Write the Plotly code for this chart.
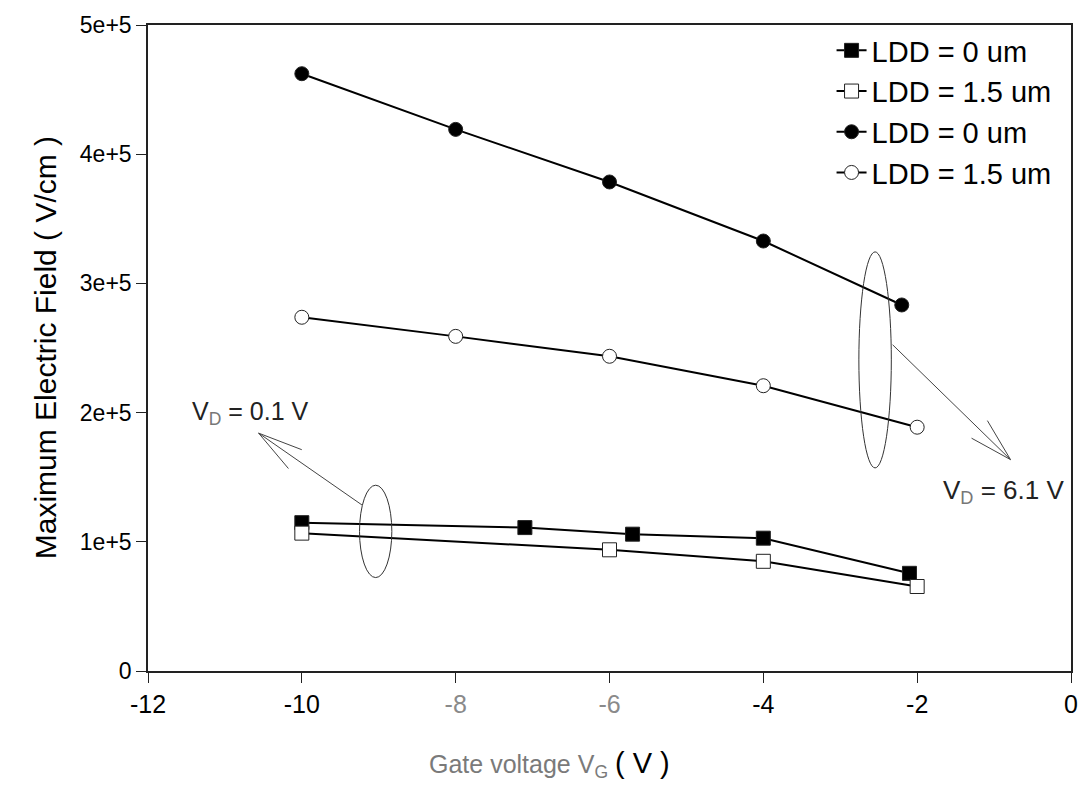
import plotly.graph_objects as go

# ---- data ----
x_sq_filled = [-10, -7.1, -5.7, -4, -2.1]
y_sq_filled = [1.148e5, 1.11e5, 1.059e5, 1.028e5, 0.756e5]

x_sq_open = [-10, -6, -4, -2]
y_sq_open = [1.067e5, 0.938e5, 0.849e5, 0.654e5]

x_ci_filled = [-10, -8, -6, -4, -2.2]
y_ci_filled = [4.623e5, 4.192e5, 3.785e5, 3.328e5, 2.833e5]

x_ci_open = [-10, -8, -6, -4, -2]
y_ci_open = [2.738e5, 2.59e5, 2.436e5, 2.208e5, 1.887e5]

legend_names = ["LDD = 0 um", "LDD = 1.5 um", "LDD = 0 um", "LDD = 1.5 um"]

x_tickvals = [-12, -10, -8, -6, -4, -2, 0]
x_ticktext = ["-12", "-10", "<span style='color:#8a8a8a'>-8</span>",
              "<span style='color:#8a8a8a'>-6</span>", "-4", "-2", "0"]
y_tickvals = [0, 1e5, 2e5, 3e5, 4e5, 5e5]
y_ticktext = ["0", "1e+5", "2e+5", "3e+5", "4e+5", "5e+5"]

FONT = "Liberation Sans, Arial, sans-serif"

fig = go.Figure()

def add_series(xs, ys, name, symbol, fill):
    fig.add_trace(go.Scatter(
        x=xs, y=ys, name=name, mode="lines+markers",
        line=dict(color="black", width=2),
        marker=dict(symbol=symbol, size=14, color=fill,
                    line=dict(color="#222", width=1)),
    ))

add_series(x_sq_filled, y_sq_filled, legend_names[0], "square", "black")
add_series(x_sq_open, y_sq_open, legend_names[1], "square", "white")
add_series(x_ci_filled, y_ci_filled, legend_names[2], "circle", "black")
add_series(x_ci_open, y_ci_open, legend_names[3], "circle", "white")

shapes = []
# ellipses
shapes.append(dict(type="circle", xref="x", yref="y", x0=-9.25, x1=-8.83,
                   y0=0.723e5, y1=1.438e5, line=dict(color="#333", width=1)))
shapes.append(dict(type="circle", xref="x", yref="y", x0=-2.758, x1=-2.336,
                   y0=1.572e5, y1=3.244e5, line=dict(color="#333", width=1)))
# arrows (open heads drawn as lines)
arrow_segments = [
    # left arrow
    ((-9.218, 1.285e5), (-10.562, 1.841e5)),
    ((-10.562, 1.841e5), (-10.001, 1.713e5)),
    ((-10.562, 1.841e5), (-10.174, 1.567e5)),
    # right arrow
    ((-2.319, 2.525e5), (-0.786, 1.636e5)),
    ((-0.786, 1.636e5), (-1.293, 1.802e5)),
    ((-0.786, 1.636e5), (-1.087, 1.938e5)),
]
for (a, b) in arrow_segments:
    shapes.append(dict(type="line", xref="x", yref="y", x0=a[0], y0=a[1],
                       x1=b[0], y1=b[1], line=dict(color="#444", width=1)))

annotations = [
    dict(x=-10.67, y=2.0e5, xref="x", yref="y", showarrow=False,
         text="V<sub><span style='color:#777'>D</span></sub> = 0.1 V",
         font=dict(family=FONT, size=25, color="#222")),
    dict(x=-0.88, y=1.39e5, xref="x", yref="y", showarrow=False,
         text="V<sub><span style='color:#777'>D</span></sub> = 6.1 V",
         font=dict(family=FONT, size=26, color="#222")),
    dict(x=(552 - 148) / 929, y=(671 - 785) / 651, xref="paper", yref="paper",
         showarrow=False,
         text="<span style='color:#7a7a7a'>Gate voltage V<sub>G</sub></span> "
              "<span style='font-size:29px'>( V )</span>",
         font=dict(family=FONT, size=25, color="black")),
    dict(x=(26 - 148) / 929, y=0.5, xref="paper", yref="paper",
         showarrow=False, textangle=-90,
         text="Maximum Electric Field ( V/cm )",
         font=dict(family=FONT, size=30, color="black")),
]

fig.update_layout(
    width=1090, height=789,
    margin=dict(l=148, r=13, t=20, b=118),
    paper_bgcolor="white", plot_bgcolor="white",
    font=dict(family=FONT, color="black"),
    showlegend=True,
    legend=dict(x=(836 - 148) / 929, y=1.0, xanchor="left", yanchor="top",
                bgcolor="rgba(0,0,0,0)", borderwidth=0,
                font=dict(family=FONT, size=29, color="black"),
                tracegroupgap=0),
    shapes=shapes,
    annotations=annotations,
)

fig.update_xaxes(range=[-12, 0], tickvals=x_tickvals, ticktext=x_ticktext,
                 showline=True, linecolor="#222", linewidth=1.5, mirror=True,
                 ticks="outside", ticklen=10, tickcolor="#222",
                 showgrid=False, zeroline=False,
                 tickfont=dict(family=FONT, size=25, color="black"))
fig.update_yaxes(range=[0, 5e5], tickvals=y_tickvals, ticktext=y_ticktext,
                 showline=True, linecolor="#222", linewidth=1.5, mirror=True,
                 ticks="outside", ticklen=10, tickcolor="#222",
                 showgrid=False, zeroline=False,
                 tickfont=dict(family=FONT, size=23, color="black"))

fig.write_html("out.html")
